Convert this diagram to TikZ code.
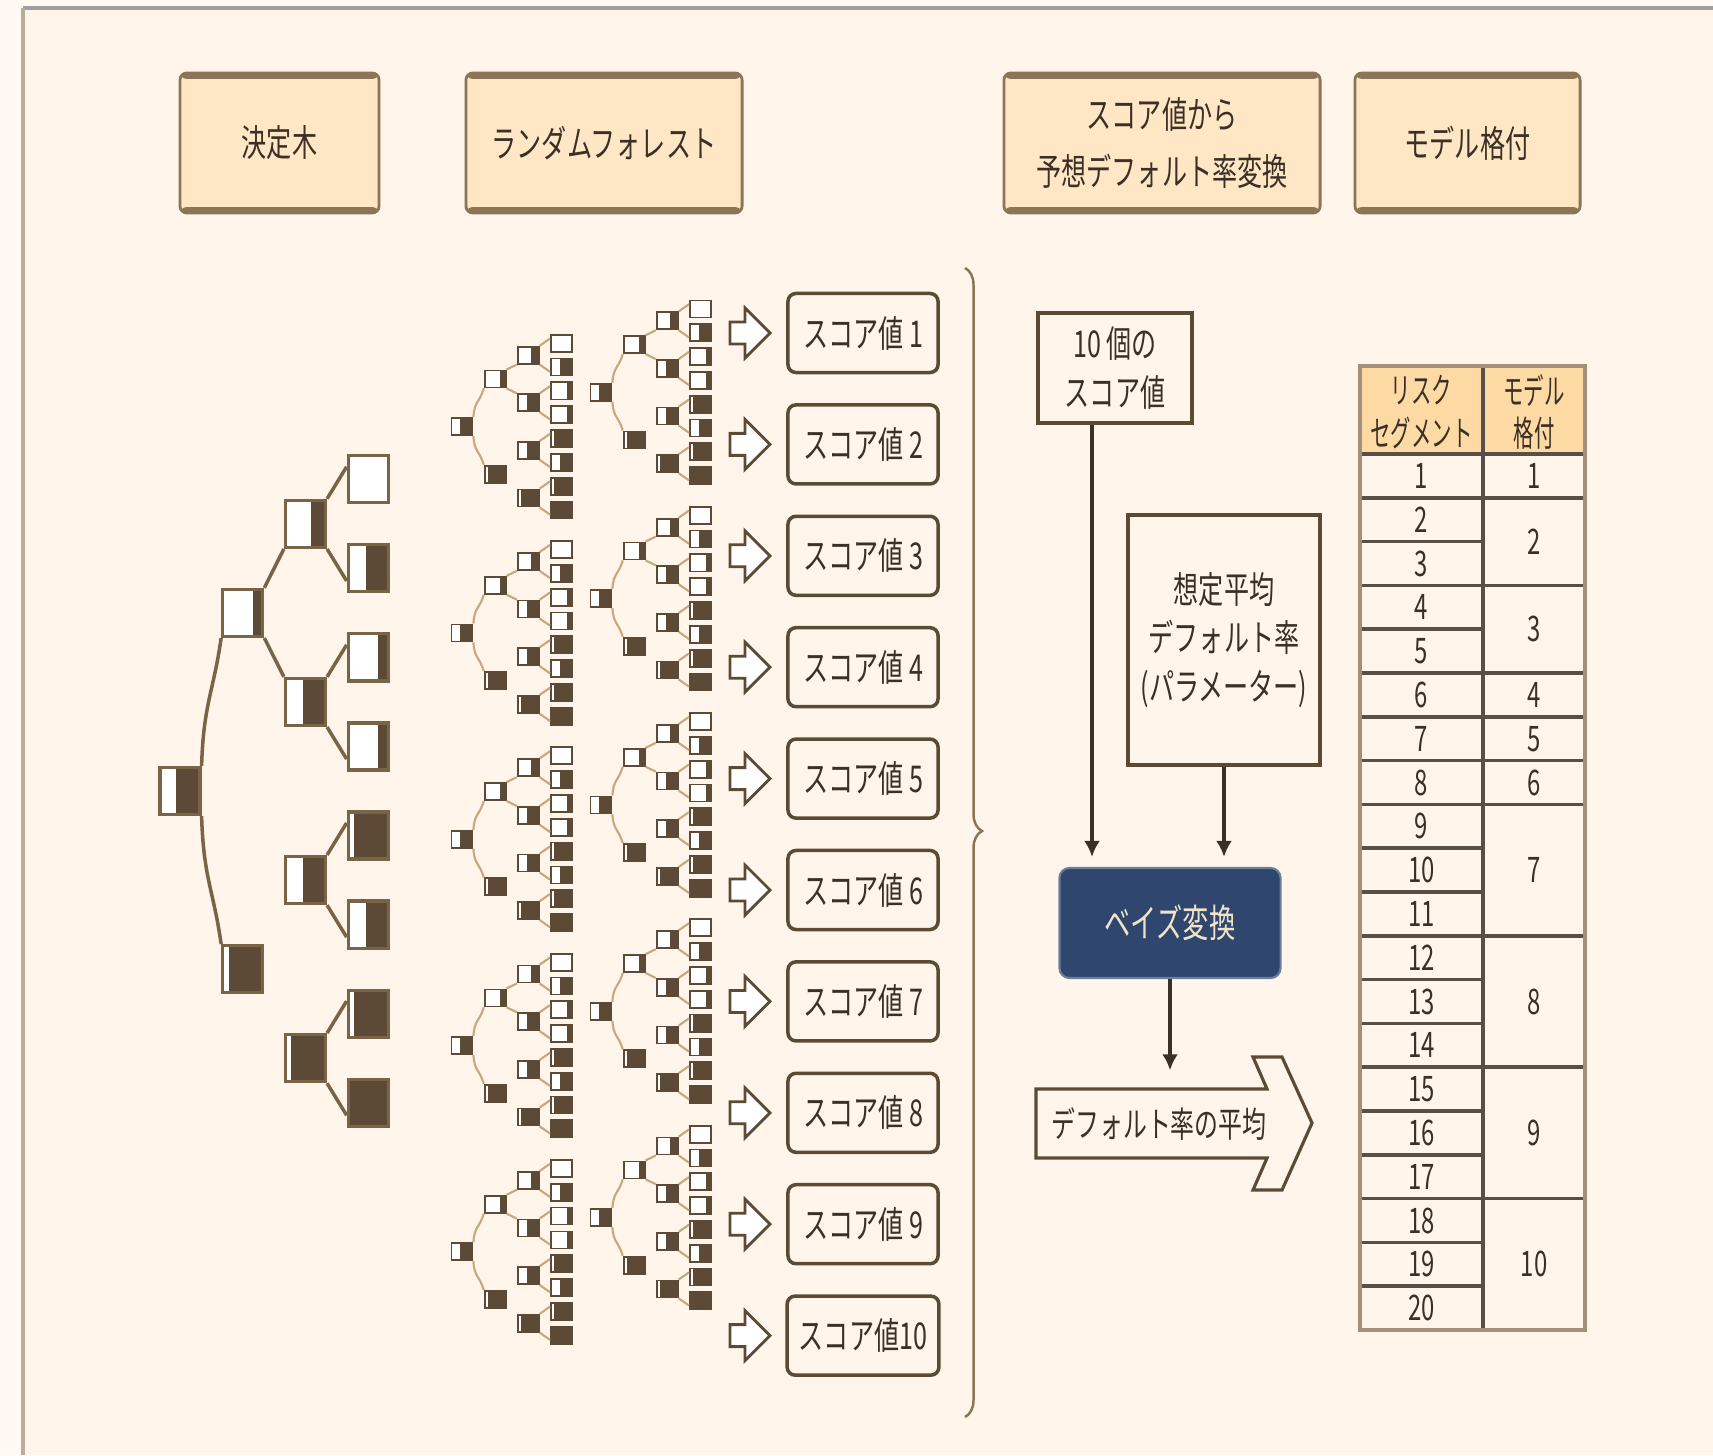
\documentclass[tikz,border=0pt]{standalone}
\usepackage{fontspec}
\newfontfamily\jp[FakeStretch=0.68]{Noto Sans CJK JP}
\newfontfamily\jpc[FakeStretch=0.58]{Noto Sans CJK JP}
\usetikzlibrary{positioning,calc,arrows.meta,decorations.pathreplacing}
\definecolor{haikei}{HTML}{FFF5EA}
\definecolor{soto}{HTML}{FFF9F2}
\definecolor{midashi}{HTML}{FFE6C4}
\definecolor{waku}{HTML}{8C7456}
\definecolor{koge}{HTML}{5C4A36}
\definecolor{kiwaku}{HTML}{7A6448}
\definecolor{edaha}{HTML}{C9A67C}
\definecolor{hyoh}{HTML}{FDD9A4}
\definecolor{kon}{HTML}{2F476E}
\definecolor{moji}{HTML}{3A3026}
\definecolor{kinari}{HTML}{F2E3C8}

% one tree: root, two branches, four forks, eight leaves (#1 = name prefix)
\newcommand{\kinoki}[1]{%
  \node[ki=.6]  (#1r)  at (0,0) {};
  \node[ki=.25] (#1a)  at (1,-2) {};
  \node[ki=.85] (#1b)  at (1,2) {};
  \node[ki=.35] (#1aa) at (2,-3) {};
  \node[ki=.55] (#1ab) at (2,-1) {};
  \node[ki=.55] (#1ba) at (2,1) {};
  \node[ki=.85] (#1bb) at (2,3) {};
  \foreach \dk [count=\i] in {0,.55,.25,.25,.85,.55,.85,1}
    \node[ki=\dk] (#1l\i) at (3,\i-4.5) {};
  \draw[kiedge] (#1r.north east) .. controls +(0.03,-0.7) and +(-0.12,0.6) .. (#1a.south west);
  \draw[kiedge] (#1r.south east) .. controls +(0.03,0.7) and +(-0.12,-0.6) .. (#1b.north west);
  \draw[kiedge] (#1a.north east) -- (#1aa.south west);
  \draw[kiedge] (#1a.south east) -- (#1ab.north west);
  \foreach \p/\ua/\ub in {aa/1/2,ab/3/4,ba/5/6,bb/7/8} {
    \draw[kiedge] (#1\p.north east) -- ($(#1l\ua.north west)!.25!(#1l\ua.south west)$);
    \draw[kiedge] (#1\p.south east) -- ($(#1l\ub.north west)!.75!(#1l\ub.south west)$);
  }%
}

\begin{document}
\begin{tikzpicture}[x=0.01cm,y=-0.01cm,>={Latex[length=1.6mm,width=1.6mm]},
  hd/.style={draw=waku,line width=.8pt,fill=midashi,rounded corners=.07cm,align=center,
    text=moji,font=\jp\fontsize{10.5}{16.2}\selectfont,
    path picture={\fill[waku] (path picture bounding box.north west) rectangle ([yshift=-.06cm]path picture bounding box.north east);
      \fill[waku] (path picture bounding box.south west) rectangle ([yshift=.06cm]path picture bounding box.south east);}},
  kibase/.style={draw=koge,line width=.5pt,fill=white,inner sep=0pt,minimum width=.21cm,minimum height=.17cm},
  ki/.style={kibase,path picture={\fill[koge] ($(path picture bounding box.north east)!#1!(path picture bounding box.north west)$) rectangle (path picture bounding box.south east);}},
  kiedge/.style={draw=edaha,line width=.6pt},
  score/.style={draw=koge,line width=1pt,fill=haikei,rounded corners=.08cm,minimum width=1.50cm,minimum height=.79cm,
    text=moji,font=\jp\fontsize{10.5}{12}\selectfont},
  yaji/.style={draw=koge,line width=.8pt,fill=white,line join=miter},
  kbox/.style={draw=koge,line width=.9pt,fill=haikei,align=center,text=moji,font=\jp\fontsize{10.5}{13.7}\selectfont},
  sen/.style={draw=moji,line width=.9pt},
  hyoji/.style={text=moji,font=\jp\fontsize{10}{12}\selectfont,inner sep=0pt},
  hyosen/.style={draw=moji!85,line width=1pt},
  hyowaku/.style={draw=waku!80,line width=1.2pt}]

\useasboundingbox (0,0) rectangle (1713,1455);
\fill[soto] (0,0) rectangle (1713,1455);
\fill[haikei] (23,8) rectangle (1713,1455);
\draw[gray!75,line width=1.1pt] (23,8) -- (1713,8);
\draw[waku!60,line width=1.1pt] (23,8) -- (23,1455);

% ---- header boxes
\node[hd,minimum width=1.99cm,minimum height=1.40cm] (h1) at (279.5,143) {決定木};
\node[hd,minimum width=2.76cm,minimum height=1.40cm] (h2) at (604,143) {ランダムフォレスト};
\node[hd,minimum width=3.16cm,minimum height=1.40cm] (h3) at (1162,143) {スコア値から\\予想デフォルト率変換};
\node[hd,minimum width=2.25cm,minimum height=1.40cm] (h4) at (1467.5,143) {モデル格付};

% ---- decision tree
\begin{scope}[shift={(180,791)},x=0.627cm,y=-0.89cm,
  kibase/.append style={draw=kiwaku,line width=.9pt,minimum width=.40cm,minimum height=.47cm},
  kiedge/.append style={draw=kiwaku,line width=1pt}]
  \kinoki{dt}
\end{scope}

% ---- random forest (ten small trees)
\foreach \r in {0,...,4} {
  \begin{scope}[shift={(462,{426.6+206.3*\r})},x=0.331cm,y=-0.238cm]
    \kinoki{fa\r}
  \end{scope}
  \begin{scope}[shift={(601,{392.3+206.3*\r})},x=0.331cm,y=-0.238cm]
    \kinoki{fb\r}
  \end{scope}
}

% ---- scores
\foreach \i in {1,...,10} {
  \coordinate (y\i) at (730,{333+111.4*(\i-1)});
  \draw[yaji] (y\i) ++(0,-11) -- ++(15,0) -- ++(0,-14) -- ++(25,25) -- ++(-25,25) -- ++(0,-14) -- ++(-15,0) -- cycle;
  \node[score] (s\i) at (863,{333+111.4*(\i-1)}) {\ifnum\i<10 スコア値 \i\else スコア値\i\fi};
}
\coordinate (kt) at (965,268);
\coordinate (kb) at (965,1417);
\draw[waku,line width=.7pt,decorate,decoration={brace,amplitude=.17cm,aspect=.49}] (kt) -- (kb);

% ---- bayes step
\node[kbox,minimum width=1.54cm,minimum height=1.10cm] (ten) at (1115,368) {10 個の\\スコア値};
\node[kbox,minimum width=1.92cm,minimum height=2.50cm] (prm) at (1224,640) {想定平均\\デフォルト率\\(パラメーター)};
\node[fill=kon,draw=kon!70,line width=.6pt,rounded corners=.1cm,minimum width=2.21cm,minimum height=1.10cm,
  text=kinari,font=\jp\fontsize{11}{13}\selectfont] (bay) at (1170,923) {ベイズ変換};
\node[text=moji,font=\jp\fontsize{10}{12}\selectfont,minimum height=.69cm,inner sep=0pt] (avg) at (1159,1123.5) {デフォルト率の平均};
\draw[draw=koge,line width=.9pt,line join=miter] (1036,1089) -- (1267,1089) -- (1253,1057) -- (1282,1057) -- (1312,1123)
  -- (1282,1190) -- (1253,1190) -- (1267,1158) -- (1036,1158) -- cycle;
\coordinate (tenout) at ([xshift=-.23cm]ten.south);
\draw[sen,->,shorten >=.1cm] (tenout) -- (tenout |- bay.north);
\draw[sen,->,shorten >=.1cm] (prm.south) -- (prm.south |- bay.north);
\draw[sen,->,shorten >=.18cm] (bay.south) -- (bay.south |- avg.north);

% ---- rating table
\fill[hyoh] (1360,366) rectangle (1585,454);
\node[hyoji,font=\jpc\fontsize{10}{12}\selectfont,align=center] (th1) at (1421.5,412) {リスク\\セグメント};
\node[hyoji,font=\jpc\fontsize{10}{12}\selectfont,align=center] (th2) at (1534,412) {モデル\\格付};
\foreach \i in {1,...,20}
  \node[hyoji] (seg\i) at (1421.5,{454+43.8*(\i-.5)}) {\i};
\foreach \k/\a/\b in {1/1/1,2/2/3,3/4/5,4/6/6,5/7/7,6/8/8,7/9/11,8/12/14,9/15/17,10/18/20}
  \node[hyoji] (rat\k) at (1534,{454+43.8*(\a+\b-1)/2}) {\k};
\foreach \i in {1,...,19}
  \draw[hyosen] (1360,{454+43.8*\i}) -- (1483,{454+43.8*\i});
\foreach \i in {1,3,5,6,7,8,11,14,17}
  \draw[hyosen] (1483,{454+43.8*\i}) -- (1585,{454+43.8*\i});
\draw[hyosen] (1360,366) -- (1585,366) (1360,454) -- (1585,454) (1483,366) -- (1483,1330);
\draw[hyowaku] (1360,366) rectangle (1585,1330);
\end{tikzpicture}
\end{document}
